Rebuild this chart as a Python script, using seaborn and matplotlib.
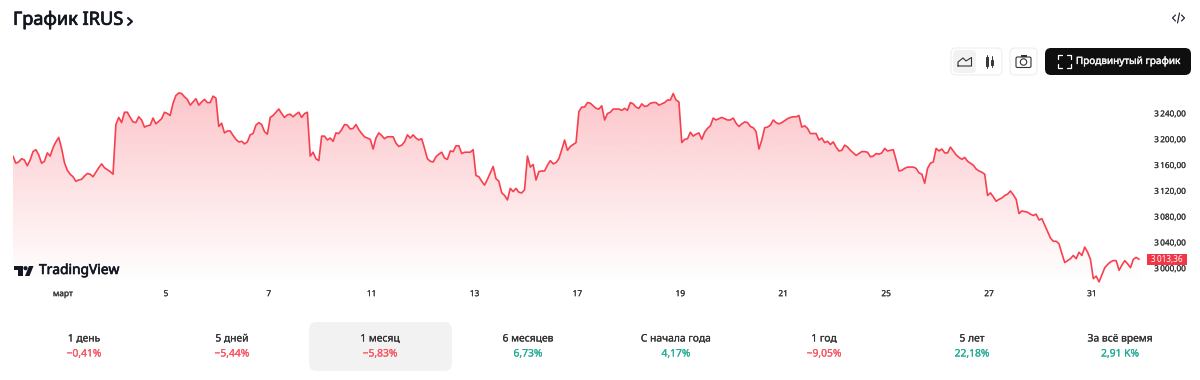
import numpy as np
import pandas as pd
import matplotlib
matplotlib.use("Agg")
import matplotlib.pyplot as plt
import matplotlib.patheffects as pe
from matplotlib.patches import FancyBboxPatch, Circle, Rectangle, Polygon
import seaborn as sns

prices_a = [3173,3162,3164,3169,3167,3158,3167,3180,3183,3175,3162,3165,3178,3173,3186,3195,3202,3185,
3163,3151,3145,3141,3134,3136,3137,3142,3146,3145,3141,3148,3155,3161,3155,3152,3149,3145,
3222,3233,3225,3241,3241,3233,3226,3225,3234,3229,3218,3220,3221,3232,3223,3227,3231,3241,
3239,3236,3255,3267,3271,3270,3265,3261,3252,3257,3262,3252,3257,3261,3256,3256,3266,3263,
3219,3224,3209,3212,3212,3205,3199,3195,3196,3192,3195,3206,3208,3221,3225,3222,3211,3207,
3233,3236,3241,3246,3239,3233,3237,3238,3234,3238,3241,3233,3239,3241,
3173,3179,3169,3166,3204,3204,3198,3201,3196,3209,3208,3214,3222,3221,3215,3216,3222,3214,
3208,3203,3201,3199,3184,3201,3209,3205,3200,3203,3203,3203,3193,3188]
prices_b = [3190,3195,3206,3201,3206,3201,3198,3200,3185,3169,3165,3164,3172,3176,3179,3170,3168,3181,
3180,3189,3189,3177,3179,3179,3179,3183,3143,3141,3134,3128,3137,3147,3157,3138,3134,3116,
3112,3105,3123,3118,3123,3117,3116,3121,3173,3156,3160,3136,3149,3150,3150,3159,3166,3161,
3163,3169,3183,3198,3182,3188,3191,3194,3242,3249,3249,3256,3255,3251,3247,3246,3251,3229,
3239,3241,3246,3246,3246,3244,3247,3244,3256,3254,3249,3247,3254,3250,3251,3255,3256,3256,
3252,3254,3256,3260,3260,3270,3260,3257,3194,3199,3200,3210,3204,3207,3209,3199,3210,3216,
3220,3232,3229,3231,3233,3231,3229,3229,3232,3224,3219,3223,3226,3225,3219,3217,3211,3184,
3198,3217,3218,3221,3229,3225,3223,3225,3228,3231,3233,3234,3234]
prices_c = [3236,3218,3220,3216,3208,3208,3208,3198,3201,3194,3196,3191,3195,3187,3181,3182,3190,3187,
3182,3178,3174,3177,3180,3180,3179,3172,3173,3177,3176,3178,3185,3181,3182,3183,3167,3150,
3151,3154,3156,3156,3156,3154,3147,3145,3131,3154,3162,3164,3185,3181,3184,3178,3178,3187,
3181,3175,3171,3168,3171,3165,3162,3159,3153,3150,3148,3145,3112,3116,3110,3103,3106,3108,
3112,3114,3119,3113,3106,3084,3088,3087,3086,3083,3081,3083,3074,3076,3066,3056,3046,3041,
3041,3037,3022,3008,3011,3014,3019,3014,3024,3019,3032,3024,3013,2983,2987,2978,2989,3000,
3005,3009,3011,3011,2996,3004,3011,3006,3000,3013,3016,3013]
prices = prices_a + prices_b + prices_c
last_price = 3013.36

y_ticks = [3000, 3040, 3080, 3120, 3160, 3200, 3240]
y_tick_labels = ["3\u2009000,00", "3\u2009040,00", "3\u2009080,00", "3\u2009120,00", "3\u2009160,00", "3\u2009200,00", "3\u2009240,00"]
last_label = "3\u2009013,36"
x_tick_labels = ["март", "5", "7", "11", "13", "17", "19", "21", "25", "27", "31"]

tab_names = ["1 день", "5 дней", "1 месяц", "6 месяцев", "С начала года", "1 год", "5 лет", "За всё время"]
tab_values = ["−0,41%", "−5,44%", "−5,83%", "6,73%", "4,17%", "−9,05%", "22,18%", "2,91 K%"]

RED = "#f7404f"
NEG = "#f7525f"
POS = "#22ab94"
INK = "#131722"
FONT = "Noto Sans"

sns.set_theme(style="white")
plt.rcParams["font.family"] = [FONT, "DejaVu Sans"]

W, H = 1200, 380
fig = plt.figure(figsize=(12, 3.8), dpi=100, facecolor="white")

def heavy(w, c):
    return [pe.withStroke(linewidth=w, foreground=c)]

# chart axes: px box left 13, right 1150, top 80, bottom 285
ax = fig.add_axes([13 / W, 1 - 285 / H, (1150 - 13) / W, (285 - 80) / H])
ax.patch.set_alpha(0)
df = pd.DataFrame({"bar": np.arange(len(prices)), "price": prices})
ymin, ymax = 2973.2, 3291
xmax = (1150 - 13) / 2.858

sns.lineplot(data=df, x="bar", y="price", ax=ax, color=RED, lw=1.2, zorder=3)

poly = ax.fill_between(df["bar"], df["price"], ymin, facecolor="none", edgecolor="none")
grad = np.zeros((256, 1, 4))
grad[..., :3] = matplotlib.colors.to_rgb(NEG)
grad[..., 3] = np.linspace(0.33, 0.0, 256)[:, None]
im = ax.imshow(grad, extent=(0, len(prices) - 1, ymin + 5, max(prices)), aspect="auto", zorder=2)
im.set_clip_path(poly.get_paths()[0], transform=ax.transData)

ax.set_xlim(0, xmax)
ax.set_ylim(ymin, ymax)
ax.set_xlabel("")
ax.set_ylabel("")
sns.despine(ax=ax, left=True, bottom=True, top=True, right=True)
ax.yaxis.tick_right()
ax.set_yticks(y_ticks, y_tick_labels, fontsize=5.9, color="#333333")
ax.set_xticks(17.5 + 36 * np.arange(len(x_tick_labels)), x_tick_labels, fontsize=6.0, color="#333333")
ax.tick_params(axis="both", length=0)
ax.tick_params(axis="y", pad=3.0)
ax.tick_params(axis="x", pad=3.0)
for lab in ax.get_yticklabels() + ax.get_xticklabels():
    lab.set_path_effects(heavy(0.12, "#333333"))

box_x0 = (1147 - 13) / (1150 - 13)
box_w = 40 / (1150 - 13)
box_h = 11 / 0.645
ax.add_patch(Rectangle((box_x0, last_price - box_h / 2), box_w, box_h, transform=ax.get_yaxis_transform(),
                       fc="#f23645", ec="none", clip_on=False, zorder=6))
ax.text(box_x0 + box_w / 2, last_price, last_label, transform=ax.get_yaxis_transform(),
        ha="center", va="center", fontsize=5.9, color="white", zorder=7, clip_on=False)

# page furniture, in a pixel-sized overlay
ui = fig.add_axes([0, 0, 1, 1], zorder=5)
ui.set_xlim(0, W)
ui.set_ylim(H, 0)
ui.axis("off")

ui.text(13, 19.5, "График IRUS", fontsize=13.1, color=INK, ha="left", va="center",
        path_effects=heavy(0.55, INK))
ui.plot([128, 132, 128], [18, 21.5, 25], color=INK, lw=1.5)

# </> icon
ui.plot([1175.5, 1172.5, 1175.5], [15, 18, 21], color=INK, lw=0.8)
ui.plot([1181.5, 1184.5, 1181.5], [15, 18, 21], color=INK, lw=0.8)
ui.plot([1177.5, 1179.5], [23, 13], color=INK, lw=0.8)

def rbox(x0, y0, x1, y1, r, fc, ec="none", lw=0.8):
    ui.add_patch(FancyBboxPatch((x0 + r, y0 + r), x1 - x0 - 2 * r, y1 - y0 - 2 * r,
                                boxstyle=f"round,pad={r},rounding_size={r}", fc=fc, ec=ec, lw=lw))

rbox(951, 48, 1002, 75, 5, "white", "#eeeeee")
rbox(953, 50, 976, 73, 4, "#f2f2f2")
rbox(1010, 48, 1037, 75, 5, "white", "#eeeeee")
rbox(1045, 48, 1191, 75, 6, "#0f0f0f")
ui.plot([958, 958, 963, 966, 971.5, 971.5, 958], [66, 62, 58, 61, 57.5, 66, 66], color="#333333", lw=0.8)
for x, (a, b, c, d) in zip([987, 992], [(55, 57, 66, 68), (56, 59.5, 64.5, 67)]):
    ui.plot([x, x], [a, d], color="#333333", lw=0.7)
    ui.add_patch(Rectangle((x - 1.4, b), 2.8, c - b, fc="white", ec="#333333", lw=0.7))
rbox(1016, 57, 1031, 67.5, 1.5, "white", "#333333", 0.8)
ui.add_patch(Rectangle((1020.5, 55.3), 6, 1.8, fc="#333333", ec="none"))
ui.add_patch(Circle((1023.5, 62), 3.2, fc="white", ec="#333333", lw=0.8))
for cx, cy, dx, dy in [(1058, 55, 1, 1), (1071, 55, -1, 1), (1058, 68, 1, -1), (1071, 68, -1, -1)]:
    ui.plot([cx + 4 * dx, cx, cx], [cy, cy, cy + 4 * dy], color="white", lw=0.9)
ui.text(1128.5, 61.5, "Продвинутый график", fontsize=7.2, color="#f5f5f5", ha="center", va="center",
        path_effects=heavy(0.25, "#f5f5f5"))

# TradingView mark
ui.add_patch(Polygon([[14, 266], [22.5, 266], [22.5, 276], [18, 276], [18, 270], [14, 270]], fc=INK, ec="none"))
ui.add_patch(Circle((25.5, 268.2), 2.1, fc=INK, ec="none"))
ui.add_patch(Polygon([[29, 266], [33.5, 266], [29.5, 276], [25, 276]], fc=INK, ec="none"))
ui.text(39, 270.5, "TradingView", fontsize=9.9, color=INK, ha="left", va="center",
        path_effects=heavy(0.45, INK))

# period tabs
rbox(309, 322, 452, 371, 8, "#f2f2f2")
for i, (name, val) in enumerate(zip(tab_names, tab_values)):
    cx = 84 + 148 * i
    ui.text(cx, 339, name, fontsize=7.4, color="#333333", ha="center", va="center",
            path_effects=heavy(0.15, "#333333"))
    col = NEG if val.startswith("−") else POS
    ui.text(cx, 354, val, fontsize=7.4, color=col, ha="center", va="center",
            path_effects=heavy(0.15, col))

fig.savefig("out.png", dpi=100)
